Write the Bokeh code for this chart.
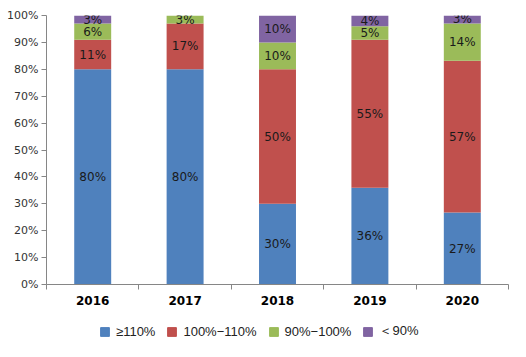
from bokeh.plotting import figure
from bokeh.layouts import column
from bokeh.models import ColumnDataSource, FixedTicker, NumeralTickFormatter, Legend, LegendItem, Range1d
from bokeh.core.properties import value
from bokeh.embed import file_html
from bokeh.resources import INLINE

years = ["2016", "2017", "2018", "2019", "2020"]
series_names = ["≥110%", "100%−110%", "90%−100%", "＜90%"]
s_ge110 = [80, 80, 30, 36, 27]
s_100_110 = [11, 17, 50, 55, 57]
s_90_100 = [6, 3, 10, 5, 14]
s_lt90 = [3, 0, 10, 4, 3]
colors = ["#4F81BD", "#C0504D", "#9BBB59", "#8064A2"]

series = [s_ge110, s_100_110, s_90_100, s_lt90]
totals = [sum(s[i] for s in series) for i in range(len(years))]
xs = [i + 1 for i in range(len(years))]
keys = ["a", "b", "c", "d"]
data = {"x": xs}
for k, s in zip(keys, series):
    data[k] = [v / t for v, t in zip(s, totals)]
src = ColumnDataSource(data)

p = figure(width=526, height=312, output_backend="svg", toolbar_location=None,
           x_range=Range1d(0.5, len(years) + 0.5), y_range=Range1d(0, 1),
           min_border_left=46, min_border_right=18, min_border_top=15, min_border_bottom=28)
p.outline_line_color = None
p.grid.grid_line_color = None
p.background_fill_color = "white"
p.border_fill_color = "white"

renderers = p.vbar_stack(keys, x="x", width=0.4, source=src, color=colors, line_color=None)

# labels
lx, ly, lt = [], [], []
for i in range(len(years)):
    cum = 0
    for s in series:
        v = s[i]
        if v > 0:
            lx.append(xs[i])
            ly.append((cum + v / 2) / totals[i])
            lt.append(f"{v}%")
        cum += v
p.text(x=lx, y=ly, text=lt, text_align="center", text_baseline="middle",
       text_font=value("DejaVu Sans"), text_font_size="12px", text_color="#1a1a1a")

# axes
ax = p.xaxis[0]
ax.ticker = FixedTicker(ticks=xs, minor_ticks=[x - 0.5 for x in xs] + [xs[-1] + 0.5])
ax.major_label_overrides = {x: y for x, y in zip(xs, years)}
ax.major_tick_out = 0
ax.major_tick_in = 0
ax.minor_tick_out = 5
ax.minor_tick_in = 0
ax.minor_tick_line_color = "#868686"
ax.axis_line_color = "#868686"
ax.major_label_text_font = "DejaVu Sans"
ax.major_label_text_font_style = "bold"
ax.major_label_text_font_size = "12px"
ax.major_label_text_color = "#000000"
ax.major_label_standoff = 6

ay = p.yaxis[0]
ay.ticker = FixedTicker(ticks=[i / 10 for i in range(11)])
ay.formatter = NumeralTickFormatter(format="0%")
ay.major_tick_out = 5
ay.major_tick_in = 0
ay.minor_tick_out = 0
ay.minor_tick_in = 0
ay.major_tick_line_color = "#868686"
ay.axis_line_color = "#868686"
ay.major_label_text_font = "DejaVu Sans"
ay.major_label_text_font_size = "11px"
ay.major_label_text_color = "#333333"
ay.major_label_standoff = 3

# legend figure
lf = figure(width=526, height=45, output_backend="svg", toolbar_location=None,
            x_range=Range1d(0, 1), y_range=Range1d(0, 1), min_border=0,
            x_axis_location=None, y_axis_location=None)
lf.grid.grid_line_color = None
lf.outline_line_color = None
lrs = [lf.vbar(x=[-5], top=[-5], bottom=[-6], width=0.1, color=c) for c in colors]
items = [LegendItem(label=n, renderers=[r]) for n, r in zip(series_names, lrs)]
legend = Legend(items=items, orientation="horizontal", location=(53, 17),
                label_text_font="Liberation Sans", label_text_font_size="13px",
                label_text_color="#222222", glyph_width=11, glyph_height=11,
                spacing=11, label_standoff=6, border_line_color=None,
                background_fill_alpha=0, padding=4, margin=0, label_height=14)
lf.add_layout(legend, "center")

layout = column(p, lf, spacing=0)
open("out.html", "w").write(file_html(layout, INLINE))
